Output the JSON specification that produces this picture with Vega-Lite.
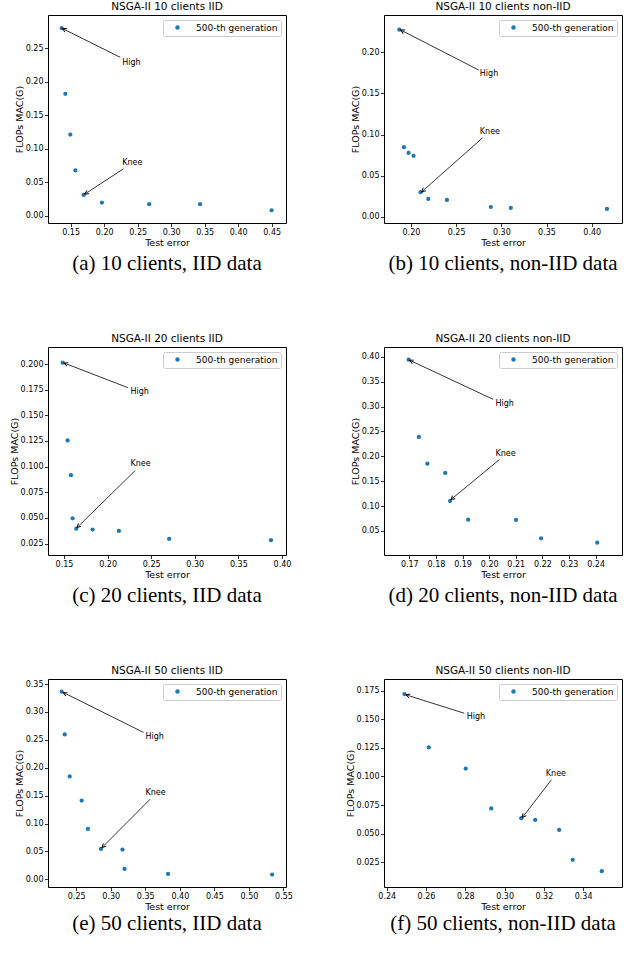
{
"$schema": "https://vega.github.io/schema/vega-lite/v6.json",
"padding": {"left": 8, "top": 1, "right": 5, "bottom": 5},
"background": "white",
"datasets": {
"pts": [
{"panel":"a","series":"500-th generation","err":0.1366,"flops":0.280},
{"panel":"a","series":"500-th generation","err":0.1421,"flops":0.1821},
{"panel":"a","series":"500-th generation","err":0.1495,"flops":0.1213},
{"panel":"a","series":"500-th generation","err":0.1570,"flops":0.0679},
{"panel":"a","series":"500-th generation","err":0.1694,"flops":0.0314},
{"panel":"a","series":"500-th generation","err":0.1967,"flops":0.0200},
{"panel":"a","series":"500-th generation","err":0.2672,"flops":0.0175},
{"panel":"a","series":"500-th generation","err":0.3432,"flops":0.0175},
{"panel":"a","series":"500-th generation","err":0.4499,"flops":0.0085},
{"panel":"b","series":"500-th generation","err":0.1871,"flops":0.2271},
{"panel":"b","series":"500-th generation","err":0.1923,"flops":0.0846},
{"panel":"b","series":"500-th generation","err":0.1974,"flops":0.0777},
{"panel":"b","series":"500-th generation","err":0.2029,"flops":0.0741},
{"panel":"b","series":"500-th generation","err":0.2107,"flops":0.0300},
{"panel":"b","series":"500-th generation","err":0.2192,"flops":0.0219},
{"panel":"b","series":"500-th generation","err":0.2398,"flops":0.0206},
{"panel":"b","series":"500-th generation","err":0.2884,"flops":0.0121},
{"panel":"b","series":"500-th generation","err":0.3105,"flops":0.0109},
{"panel":"b","series":"500-th generation","err":0.4169,"flops":0.0097},
{"panel":"c","series":"500-th generation","err":0.1485,"flops":0.2013},
{"panel":"c","series":"500-th generation","err":0.1542,"flops":0.1255},
{"panel":"c","series":"500-th generation","err":0.1580,"flops":0.0917},
{"panel":"c","series":"500-th generation","err":0.1599,"flops":0.0497},
{"panel":"c","series":"500-th generation","err":0.1641,"flops":0.0396},
{"panel":"c","series":"500-th generation","err":0.1828,"flops":0.0387},
{"panel":"c","series":"500-th generation","err":0.2130,"flops":0.0374},
{"panel":"c","series":"500-th generation","err":0.2706,"flops":0.0296},
{"panel":"c","series":"500-th generation","err":0.3874,"flops":0.0283},
{"panel":"d","series":"500-th generation","err":0.16975,"flops":0.394},
{"panel":"d","series":"500-th generation","err":0.1736,"flops":0.2388},
{"panel":"d","series":"500-th generation","err":0.1768,"flops":0.1852},
{"panel":"d","series":"500-th generation","err":0.1835,"flops":0.1665},
{"panel":"d","series":"500-th generation","err":0.1853,"flops":0.110},
{"panel":"d","series":"500-th generation","err":0.1921,"flops":0.0728},
{"panel":"d","series":"500-th generation","err":0.2101,"flops":0.0721},
{"panel":"d","series":"500-th generation","err":0.2195,"flops":0.0353},
{"panel":"d","series":"500-th generation","err":0.2406,"flops":0.0266},
{"panel":"e","series":"500-th generation","err":0.2290,"flops":0.3362},
{"panel":"e","series":"500-th generation","err":0.2334,"flops":0.2597},
{"panel":"e","series":"500-th generation","err":0.2406,"flops":0.1843},
{"panel":"e","series":"500-th generation","err":0.2579,"flops":0.1412},
{"panel":"e","series":"500-th generation","err":0.2670,"flops":0.0903},
{"panel":"e","series":"500-th generation","err":0.2858,"flops":0.0544},
{"panel":"e","series":"500-th generation","err":0.3170,"flops":0.0532},
{"panel":"e","series":"500-th generation","err":0.3200,"flops":0.0185},
{"panel":"e","series":"500-th generation","err":0.3830,"flops":0.0096},
{"panel":"e","series":"500-th generation","err":0.5336,"flops":0.0084},
{"panel":"f","series":"500-th generation","err":0.2490,"flops":0.1721},
{"panel":"f","series":"500-th generation","err":0.2614,"flops":0.1254},
{"panel":"f","series":"500-th generation","err":0.2802,"flops":0.1069},
{"panel":"f","series":"500-th generation","err":0.2932,"flops":0.0720},
{"panel":"f","series":"500-th generation","err":0.3085,"flops":0.0635},
{"panel":"f","series":"500-th generation","err":0.3156,"flops":0.0620},
{"panel":"f","series":"500-th generation","err":0.3278,"flops":0.0532},
{"panel":"f","series":"500-th generation","err":0.3347,"flops":0.0271},
{"panel":"f","series":"500-th generation","err":0.3495,"flops":0.0171}
],
"ann": [
{"panel":"a","label":"High","tx":0.2270,"ty":0.2285,"ax":0.2240,"ay":0.2365,"hx":0.1376,"hy":0.2794},
{"panel":"a","label":"Knee","tx":0.2270,"ty":0.0788,"ax":0.2290,"ay":0.0704,"hx":0.1709,"hy":0.0324},
{"panel":"b","label":"High","tx":0.2762,"ty":0.1733,"ax":0.2751,"ay":0.1781,"hx":0.1886,"hy":0.2267},
{"panel":"b","label":"Knee","tx":0.2762,"ty":0.1032,"ax":0.2792,"ay":0.0959,"hx":0.2118,"hy":0.0304},
{"panel":"c","label":"High","tx":0.2263,"ty":0.1727,"ax":0.2233,"ay":0.1770,"hx":0.1500,"hy":0.2010},
{"panel":"c","label":"Knee","tx":0.2263,"ty":0.1021,"ax":0.2317,"ay":0.0962,"hx":0.1649,"hy":0.0406},
{"panel":"d","label":"High","tx":0.2024,"ty":0.3057,"ax":0.2015,"ay":0.3144,"hx":0.1701,"hy":0.3930},
{"panel":"d","label":"Knee","tx":0.2024,"ty":0.2046,"ax":0.2038,"ay":0.1932,"hx":0.1856,"hy":0.1129},
{"panel":"e","label":"High","tx":0.3504,"ty":0.2543,"ax":0.3475,"ay":0.2633,"hx":0.2310,"hy":0.3350},
{"panel":"e","label":"Knee","tx":0.3504,"ty":0.1544,"ax":0.3571,"ay":0.1436,"hx":0.2873,"hy":0.0568},
{"panel":"f","label":"High","tx":0.2807,"ty":0.1521,"ax":0.2795,"ay":0.1553,"hx":0.2497,"hy":0.1715},
{"panel":"f","label":"Knee","tx":0.3210,"ty":0.1019,"ax":0.3239,"ay":0.0972,"hx":0.3090,"hy":0.0640}
]
},
"columns": 2,
"spacing": {"row": 50, "column": 98},
"bounds": "flush",
"align": "each",
"resolve": {"scale": {"color": "independent"}, "legend": {"color": "independent"}},
"concat": [
{"title": "NSGA-II 10 clients IID", "width": 238, "height": 208, "layer": [
 {"data": {"name": "pts"}, "transform": [{"filter": "datum.panel === 'a'"}], "mark": {"type": "circle", "size": 18, "opacity": 1},
  "encoding": {
   "x": {"field": "err", "type": "quantitative", "title": "Test error", "scale": {"domain": [0.1162, 0.4714], "nice": false, "zero": false}, "axis": {"values": [0.15,0.2,0.25,0.3,0.35,0.4,0.45], "tickCount": 30, "format": ".2f", "labelOverlap": false}},
   "y": {"field": "flops", "type": "quantitative", "title": "FLOPs MAC(G)", "scale": {"domain": [-0.0105, 0.2995], "nice": false, "zero": false}, "axis": {"values": [0,0.05,0.1,0.15,0.2,0.25], "tickCount": 30, "format": ".2f", "labelOverlap": false}},
   "color": {"field": "series", "type": "nominal", "scale": {"range": ["#1f77b4"]}, "legend": {"title": null, "orient": "top-right", "offset": 5, "strokeColor": "#cccccc", "fillColor": "white", "padding": 3, "cornerRadius": 2, "labelFont": "DejaVu Sans", "labelFontSize": 9, "labelColor": "black", "symbolSize": 20, "symbolType": "circle", "symbolOffset": 7, "labelOffset": 14}}}},
 {"data": {"name": "ann"}, "transform": [{"filter": "datum.panel === 'a'"}], "mark": {"type": "rule", "color": "black", "strokeWidth": 0.8},
  "encoding": {"x": {"field": "ax", "type": "quantitative", "title": "Test error"}, "y": {"field": "ay", "type": "quantitative", "title": "FLOPs MAC(G)"}, "x2": {"field": "hx"}, "y2": {"field": "hy"}}},
 {"data": {"name": "ann"}, "transform": [{"filter": "datum.panel === 'a' && datum.label === 'High'"}], "mark": {"type": "point", "shape": "M -1 -0.5 L 0 0 L -1 0.5", "filled": false, "color": "black", "strokeWidth": 0.9, "size": 64, "opacity": 1, "angle": 206.3},
  "encoding": {"x": {"field": "hx", "type": "quantitative", "title": "Test error"}, "y": {"field": "hy", "type": "quantitative", "title": "FLOPs MAC(G)"}}},
 {"data": {"name": "ann"}, "transform": [{"filter": "datum.panel === 'a' && datum.label === 'Knee'"}], "mark": {"type": "point", "shape": "M -1 -0.5 L 0 0 L -1 0.5", "filled": false, "color": "black", "strokeWidth": 0.9, "size": 64, "opacity": 1, "angle": 147.0},
  "encoding": {"x": {"field": "hx", "type": "quantitative", "title": "Test error"}, "y": {"field": "hy", "type": "quantitative", "title": "FLOPs MAC(G)"}}},
 {"data": {"name": "ann"}, "transform": [{"filter": "datum.panel === 'a'"}], "mark": {"type": "text", "align": "left", "baseline": "middle", "font": "DejaVu Sans", "fontSize": 8, "color": "black"},
  "encoding": {"x": {"field": "tx", "type": "quantitative", "title": "Test error"}, "y": {"field": "ty", "type": "quantitative", "title": "FLOPs MAC(G)"}, "text": {"field": "label"}}}
]},
{"title": "NSGA-II 10 clients non-IID", "width": 238, "height": 208, "layer": [
 {"data": {"name": "pts"}, "transform": [{"filter": "datum.panel === 'b'"}], "mark": {"type": "circle", "size": 18, "opacity": 1},
  "encoding": {
   "x": {"field": "err", "type": "quantitative", "title": "Test error", "scale": {"domain": [0.1702, 0.4335], "nice": false, "zero": false}, "axis": {"values": [0.2,0.25,0.3,0.35,0.4], "tickCount": 30, "format": ".2f", "labelOverlap": false}},
   "y": {"field": "flops", "type": "quantitative", "title": "FLOPs MAC(G)", "scale": {"domain": [-0.0073, 0.2449], "nice": false, "zero": false}, "axis": {"values": [0,0.05,0.1,0.15,0.2], "tickCount": 30, "format": ".2f", "labelOverlap": false}},
   "color": {"field": "series", "type": "nominal", "scale": {"range": ["#1f77b4"]}, "legend": {"title": null, "orient": "top-right", "offset": 5, "strokeColor": "#cccccc", "fillColor": "white", "padding": 3, "cornerRadius": 2, "labelFont": "DejaVu Sans", "labelFontSize": 9, "labelColor": "black", "symbolSize": 20, "symbolType": "circle", "symbolOffset": 7, "labelOffset": 14}}}},
 {"data": {"name": "ann"}, "transform": [{"filter": "datum.panel === 'b'"}], "mark": {"type": "rule", "color": "black", "strokeWidth": 0.8},
  "encoding": {"x": {"field": "ax", "type": "quantitative", "title": "Test error"}, "y": {"field": "ay", "type": "quantitative", "title": "FLOPs MAC(G)"}, "x2": {"field": "hx"}, "y2": {"field": "hy"}}},
 {"data": {"name": "ann"}, "transform": [{"filter": "datum.panel === 'b' && datum.label === 'High'"}], "mark": {"type": "point", "shape": "M -1 -0.5 L 0 0 L -1 0.5", "filled": false, "color": "black", "strokeWidth": 0.9, "size": 64, "opacity": 1, "angle": 207.0},
  "encoding": {"x": {"field": "hx", "type": "quantitative", "title": "Test error"}, "y": {"field": "hy", "type": "quantitative", "title": "FLOPs MAC(G)"}}},
 {"data": {"name": "ann"}, "transform": [{"filter": "datum.panel === 'b' && datum.label === 'Knee'"}], "mark": {"type": "point", "shape": "M -1 -0.5 L 0 0 L -1 0.5", "filled": false, "color": "black", "strokeWidth": 0.9, "size": 64, "opacity": 1, "angle": 138.5},
  "encoding": {"x": {"field": "hx", "type": "quantitative", "title": "Test error"}, "y": {"field": "hy", "type": "quantitative", "title": "FLOPs MAC(G)"}}},
 {"data": {"name": "ann"}, "transform": [{"filter": "datum.panel === 'b'"}], "mark": {"type": "text", "align": "left", "baseline": "middle", "font": "DejaVu Sans", "fontSize": 8, "color": "black"},
  "encoding": {"x": {"field": "tx", "type": "quantitative", "title": "Test error"}, "y": {"field": "ty", "type": "quantitative", "title": "FLOPs MAC(G)"}, "text": {"field": "label"}}}
]},
{"width": 238, "height": 24, "view": {"stroke": null}, "data": {"values": [{}]}, "mark": {"type": "text", "text": ""}, "encoding": {},
 "title": {"text": "(a) 10 clients, IID data", "font": "Liberation Serif", "fontSize": 21, "fontWeight": "normal", "color": "black", "offset": -1, "frame": "group"}},
{"width": 238, "height": 24, "view": {"stroke": null}, "data": {"values": [{}]}, "mark": {"type": "text", "text": ""}, "encoding": {},
 "title": {"text": "(b) 10 clients, non-IID data", "font": "Liberation Serif", "fontSize": 21, "fontWeight": "normal", "color": "black", "offset": -1, "frame": "group"}},
{"title": "NSGA-II 20 clients IID", "width": 238, "height": 208, "layer": [
 {"data": {"name": "pts"}, "transform": [{"filter": "datum.panel === 'c'"}], "mark": {"type": "circle", "size": 18, "opacity": 1},
  "encoding": {
   "x": {"field": "err", "type": "quantitative", "title": "Test error", "scale": {"domain": [0.1317, 0.4046], "nice": false, "zero": false}, "axis": {"values": [0.15,0.2,0.25,0.3,0.35,0.4], "tickCount": 30, "format": ".2f", "labelOverlap": false}},
   "y": {"field": "flops", "type": "quantitative", "title": "FLOPs MAC(G)", "scale": {"domain": [0.0139, 0.2166], "nice": false, "zero": false}, "axis": {"values": [0.025,0.05,0.075,0.1,0.125,0.15,0.175,0.2], "tickCount": 30, "format": ".3f", "labelOverlap": false}},
   "color": {"field": "series", "type": "nominal", "scale": {"range": ["#1f77b4"]}, "legend": {"title": null, "orient": "top-right", "offset": 5, "strokeColor": "#cccccc", "fillColor": "white", "padding": 3, "cornerRadius": 2, "labelFont": "DejaVu Sans", "labelFontSize": 9, "labelColor": "black", "symbolSize": 20, "symbolType": "circle", "symbolOffset": 7, "labelOffset": 14}}}},
 {"data": {"name": "ann"}, "transform": [{"filter": "datum.panel === 'c'"}], "mark": {"type": "rule", "color": "black", "strokeWidth": 0.8},
  "encoding": {"x": {"field": "ax", "type": "quantitative", "title": "Test error"}, "y": {"field": "ay", "type": "quantitative", "title": "FLOPs MAC(G)"}, "x2": {"field": "hx"}, "y2": {"field": "hy"}}},
 {"data": {"name": "ann"}, "transform": [{"filter": "datum.panel === 'c' && datum.label === 'High'"}], "mark": {"type": "point", "shape": "M -1 -0.5 L 0 0 L -1 0.5", "filled": false, "color": "black", "strokeWidth": 0.9, "size": 64, "opacity": 1, "angle": 201.1},
  "encoding": {"x": {"field": "hx", "type": "quantitative", "title": "Test error"}, "y": {"field": "hy", "type": "quantitative", "title": "FLOPs MAC(G)"}}},
 {"data": {"name": "ann"}, "transform": [{"filter": "datum.panel === 'c' && datum.label === 'Knee'"}], "mark": {"type": "point", "shape": "M -1 -0.5 L 0 0 L -1 0.5", "filled": false, "color": "black", "strokeWidth": 0.9, "size": 64, "opacity": 1, "angle": 135.7},
  "encoding": {"x": {"field": "hx", "type": "quantitative", "title": "Test error"}, "y": {"field": "hy", "type": "quantitative", "title": "FLOPs MAC(G)"}}},
 {"data": {"name": "ann"}, "transform": [{"filter": "datum.panel === 'c'"}], "mark": {"type": "text", "align": "left", "baseline": "middle", "font": "DejaVu Sans", "fontSize": 8, "color": "black"},
  "encoding": {"x": {"field": "tx", "type": "quantitative", "title": "Test error"}, "y": {"field": "ty", "type": "quantitative", "title": "FLOPs MAC(G)"}, "text": {"field": "label"}}}
]},
{"title": "NSGA-II 20 clients non-IID", "width": 238, "height": 208, "layer": [
 {"data": {"name": "pts"}, "transform": [{"filter": "datum.panel === 'd'"}], "mark": {"type": "circle", "size": 18, "opacity": 1},
  "encoding": {
   "x": {"field": "err", "type": "quantitative", "title": "Test error", "scale": {"domain": [0.1605, 0.2499], "nice": false, "zero": false}, "axis": {"values": [0.17,0.18,0.19,0.2,0.21,0.22,0.23,0.24], "tickCount": 30, "format": ".2f", "labelOverlap": false}},
   "y": {"field": "flops", "type": "quantitative", "title": "FLOPs MAC(G)", "scale": {"domain": [0.0018, 0.4195], "nice": false, "zero": false}, "axis": {"values": [0.05,0.1,0.15,0.2,0.25,0.3,0.35,0.4], "tickCount": 30, "format": ".2f", "labelOverlap": false}},
   "color": {"field": "series", "type": "nominal", "scale": {"range": ["#1f77b4"]}, "legend": {"title": null, "orient": "top-right", "offset": 5, "strokeColor": "#cccccc", "fillColor": "white", "padding": 3, "cornerRadius": 2, "labelFont": "DejaVu Sans", "labelFontSize": 9, "labelColor": "black", "symbolSize": 20, "symbolType": "circle", "symbolOffset": 7, "labelOffset": 14}}}},
 {"data": {"name": "ann"}, "transform": [{"filter": "datum.panel === 'd'"}], "mark": {"type": "rule", "color": "black", "strokeWidth": 0.8},
  "encoding": {"x": {"field": "ax", "type": "quantitative", "title": "Test error"}, "y": {"field": "ay", "type": "quantitative", "title": "FLOPs MAC(G)"}, "x2": {"field": "hx"}, "y2": {"field": "hy"}}},
 {"data": {"name": "ann"}, "transform": [{"filter": "datum.panel === 'd' && datum.label === 'High'"}], "mark": {"type": "point", "shape": "M -1 -0.5 L 0 0 L -1 0.5", "filled": false, "color": "black", "strokeWidth": 0.9, "size": 64, "opacity": 1, "angle": 205.2},
  "encoding": {"x": {"field": "hx", "type": "quantitative", "title": "Test error"}, "y": {"field": "hy", "type": "quantitative", "title": "FLOPs MAC(G)"}}},
 {"data": {"name": "ann"}, "transform": [{"filter": "datum.panel === 'd' && datum.label === 'Knee'"}], "mark": {"type": "point", "shape": "M -1 -0.5 L 0 0 L -1 0.5", "filled": false, "color": "black", "strokeWidth": 0.9, "size": 64, "opacity": 1, "angle": 140.4},
  "encoding": {"x": {"field": "hx", "type": "quantitative", "title": "Test error"}, "y": {"field": "hy", "type": "quantitative", "title": "FLOPs MAC(G)"}}},
 {"data": {"name": "ann"}, "transform": [{"filter": "datum.panel === 'd'"}], "mark": {"type": "text", "align": "left", "baseline": "middle", "font": "DejaVu Sans", "fontSize": 8, "color": "black"},
  "encoding": {"x": {"field": "tx", "type": "quantitative", "title": "Test error"}, "y": {"field": "ty", "type": "quantitative", "title": "FLOPs MAC(G)"}, "text": {"field": "label"}}}
]},
{"width": 238, "height": 24, "view": {"stroke": null}, "data": {"values": [{}]}, "mark": {"type": "text", "text": ""}, "encoding": {},
 "title": {"text": "(c) 20 clients, IID data", "font": "Liberation Serif", "fontSize": 21, "fontWeight": "normal", "color": "black", "offset": -1, "frame": "group"}},
{"width": 238, "height": 24, "view": {"stroke": null}, "data": {"values": [{}]}, "mark": {"type": "text", "text": ""}, "encoding": {},
 "title": {"text": "(d) 20 clients, non-IID data", "font": "Liberation Serif", "fontSize": 21, "fontWeight": "normal", "color": "black", "offset": -1, "frame": "group"}},
{"title": "NSGA-II 50 clients IID", "width": 238, "height": 208, "layer": [
 {"data": {"name": "pts"}, "transform": [{"filter": "datum.panel === 'e'"}], "mark": {"type": "circle", "size": 18, "opacity": 1},
  "encoding": {
   "x": {"field": "err", "type": "quantitative", "title": "Test error", "scale": {"domain": [0.2092, 0.5537], "nice": false, "zero": false}, "axis": {"values": [0.25,0.3,0.35,0.4,0.45,0.5,0.55], "tickCount": 30, "format": ".2f", "labelOverlap": false}},
   "y": {"field": "flops", "type": "quantitative", "title": "FLOPs MAC(G)", "scale": {"domain": [-0.0138, 0.359], "nice": false, "zero": false}, "axis": {"values": [0,0.05,0.1,0.15,0.2,0.25,0.3,0.35], "tickCount": 30, "format": ".2f", "labelOverlap": false}},
   "color": {"field": "series", "type": "nominal", "scale": {"range": ["#1f77b4"]}, "legend": {"title": null, "orient": "top-right", "offset": 5, "strokeColor": "#cccccc", "fillColor": "white", "padding": 3, "cornerRadius": 2, "labelFont": "DejaVu Sans", "labelFontSize": 9, "labelColor": "black", "symbolSize": 20, "symbolType": "circle", "symbolOffset": 7, "labelOffset": 14}}}},
 {"data": {"name": "ann"}, "transform": [{"filter": "datum.panel === 'e'"}], "mark": {"type": "rule", "color": "black", "strokeWidth": 0.8},
  "encoding": {"x": {"field": "ax", "type": "quantitative", "title": "Test error"}, "y": {"field": "ay", "type": "quantitative", "title": "FLOPs MAC(G)"}, "x2": {"field": "hx"}, "y2": {"field": "hy"}}},
 {"data": {"name": "ann"}, "transform": [{"filter": "datum.panel === 'e' && datum.label === 'High'"}], "mark": {"type": "point", "shape": "M -1 -0.5 L 0 0 L -1 0.5", "filled": false, "color": "black", "strokeWidth": 0.9, "size": 64, "opacity": 1, "angle": 206.4},
  "encoding": {"x": {"field": "hx", "type": "quantitative", "title": "Test error"}, "y": {"field": "hy", "type": "quantitative", "title": "FLOPs MAC(G)"}}},
 {"data": {"name": "ann"}, "transform": [{"filter": "datum.panel === 'e' && datum.label === 'Knee'"}], "mark": {"type": "point", "shape": "M -1 -0.5 L 0 0 L -1 0.5", "filled": false, "color": "black", "strokeWidth": 0.9, "size": 64, "opacity": 1, "angle": 135.0},
  "encoding": {"x": {"field": "hx", "type": "quantitative", "title": "Test error"}, "y": {"field": "hy", "type": "quantitative", "title": "FLOPs MAC(G)"}}},
 {"data": {"name": "ann"}, "transform": [{"filter": "datum.panel === 'e'"}], "mark": {"type": "text", "align": "left", "baseline": "middle", "font": "DejaVu Sans", "fontSize": 8, "color": "black"},
  "encoding": {"x": {"field": "tx", "type": "quantitative", "title": "Test error"}, "y": {"field": "ty", "type": "quantitative", "title": "FLOPs MAC(G)"}, "text": {"field": "label"}}}
]},
{"title": "NSGA-II 50 clients non-IID", "width": 238, "height": 208, "layer": [
 {"data": {"name": "pts"}, "transform": [{"filter": "datum.panel === 'f'"}], "mark": {"type": "circle", "size": 18, "opacity": 1},
  "encoding": {
   "x": {"field": "err", "type": "quantitative", "title": "Test error", "scale": {"domain": [0.2386, 0.3598], "nice": false, "zero": false}, "axis": {"values": [0.24,0.26,0.28,0.3,0.32,0.34], "tickCount": 30, "format": ".2f", "labelOverlap": false}},
   "y": {"field": "flops", "type": "quantitative", "title": "FLOPs MAC(G)", "scale": {"domain": [0.0033, 0.1853], "nice": false, "zero": false}, "axis": {"values": [0.025,0.05,0.075,0.1,0.125,0.15,0.175], "tickCount": 30, "format": ".3f", "labelOverlap": false}},
   "color": {"field": "series", "type": "nominal", "scale": {"range": ["#1f77b4"]}, "legend": {"title": null, "orient": "top-right", "offset": 5, "strokeColor": "#cccccc", "fillColor": "white", "padding": 3, "cornerRadius": 2, "labelFont": "DejaVu Sans", "labelFontSize": 9, "labelColor": "black", "symbolSize": 20, "symbolType": "circle", "symbolOffset": 7, "labelOffset": 14}}}},
 {"data": {"name": "ann"}, "transform": [{"filter": "datum.panel === 'f'"}], "mark": {"type": "rule", "color": "black", "strokeWidth": 0.8},
  "encoding": {"x": {"field": "ax", "type": "quantitative", "title": "Test error"}, "y": {"field": "ay", "type": "quantitative", "title": "FLOPs MAC(G)"}, "x2": {"field": "hx"}, "y2": {"field": "hy"}}},
 {"data": {"name": "ann"}, "transform": [{"filter": "datum.panel === 'f' && datum.label === 'High'"}], "mark": {"type": "point", "shape": "M -1 -0.5 L 0 0 L -1 0.5", "filled": false, "color": "black", "strokeWidth": 0.9, "size": 64, "opacity": 1, "angle": 197.4},
  "encoding": {"x": {"field": "hx", "type": "quantitative", "title": "Test error"}, "y": {"field": "hy", "type": "quantitative", "title": "FLOPs MAC(G)"}}},
 {"data": {"name": "ann"}, "transform": [{"filter": "datum.panel === 'f' && datum.label === 'Knee'"}], "mark": {"type": "point", "shape": "M -1 -0.5 L 0 0 L -1 0.5", "filled": false, "color": "black", "strokeWidth": 0.9, "size": 64, "opacity": 1, "angle": 127.9},
  "encoding": {"x": {"field": "hx", "type": "quantitative", "title": "Test error"}, "y": {"field": "hy", "type": "quantitative", "title": "FLOPs MAC(G)"}}},
 {"data": {"name": "ann"}, "transform": [{"filter": "datum.panel === 'f'"}], "mark": {"type": "text", "align": "left", "baseline": "middle", "font": "DejaVu Sans", "fontSize": 8, "color": "black"},
  "encoding": {"x": {"field": "tx", "type": "quantitative", "title": "Test error"}, "y": {"field": "ty", "type": "quantitative", "title": "FLOPs MAC(G)"}, "text": {"field": "label"}}}
]},
{"width": 238, "height": 4, "view": {"stroke": null}, "data": {"values": [{}]}, "mark": {"type": "text", "text": ""}, "encoding": {},
 "title": {"text": "(e) 50 clients, IID data", "font": "Liberation Serif", "fontSize": 21, "fontWeight": "normal", "color": "black", "offset": -1, "frame": "group"}},
{"width": 238, "height": 4, "view": {"stroke": null}, "data": {"values": [{}]}, "mark": {"type": "text", "text": ""}, "encoding": {},
 "title": {"text": "(f) 50 clients, non-IID data", "font": "Liberation Serif", "fontSize": 21, "fontWeight": "normal", "color": "black", "offset": -1, "frame": "group"}}
],
"config": {
 "view": {"stroke": "black", "strokeWidth": 1},
 "font": "DejaVu Sans",
 "axis": {"domain": false, "grid": false, "ticks": true, "tickColor": "black", "tickSize": 3.5, "tickWidth": 0.8, "labelFont": "DejaVu Sans", "labelFontSize": 8, "labelColor": "black", "labelPadding": 1.5, "labelFlush": false, "labelOverlap": false, "titleFont": "DejaVu Sans", "titleFontSize": 9.5, "titleFontWeight": "normal", "titleColor": "black", "titlePadding": 1},
 "title": {"font": "DejaVu Sans", "fontSize": 10.5, "fontWeight": "normal", "color": "black", "offset": 3, "frame": "group", "anchor": "middle"}
}
}
